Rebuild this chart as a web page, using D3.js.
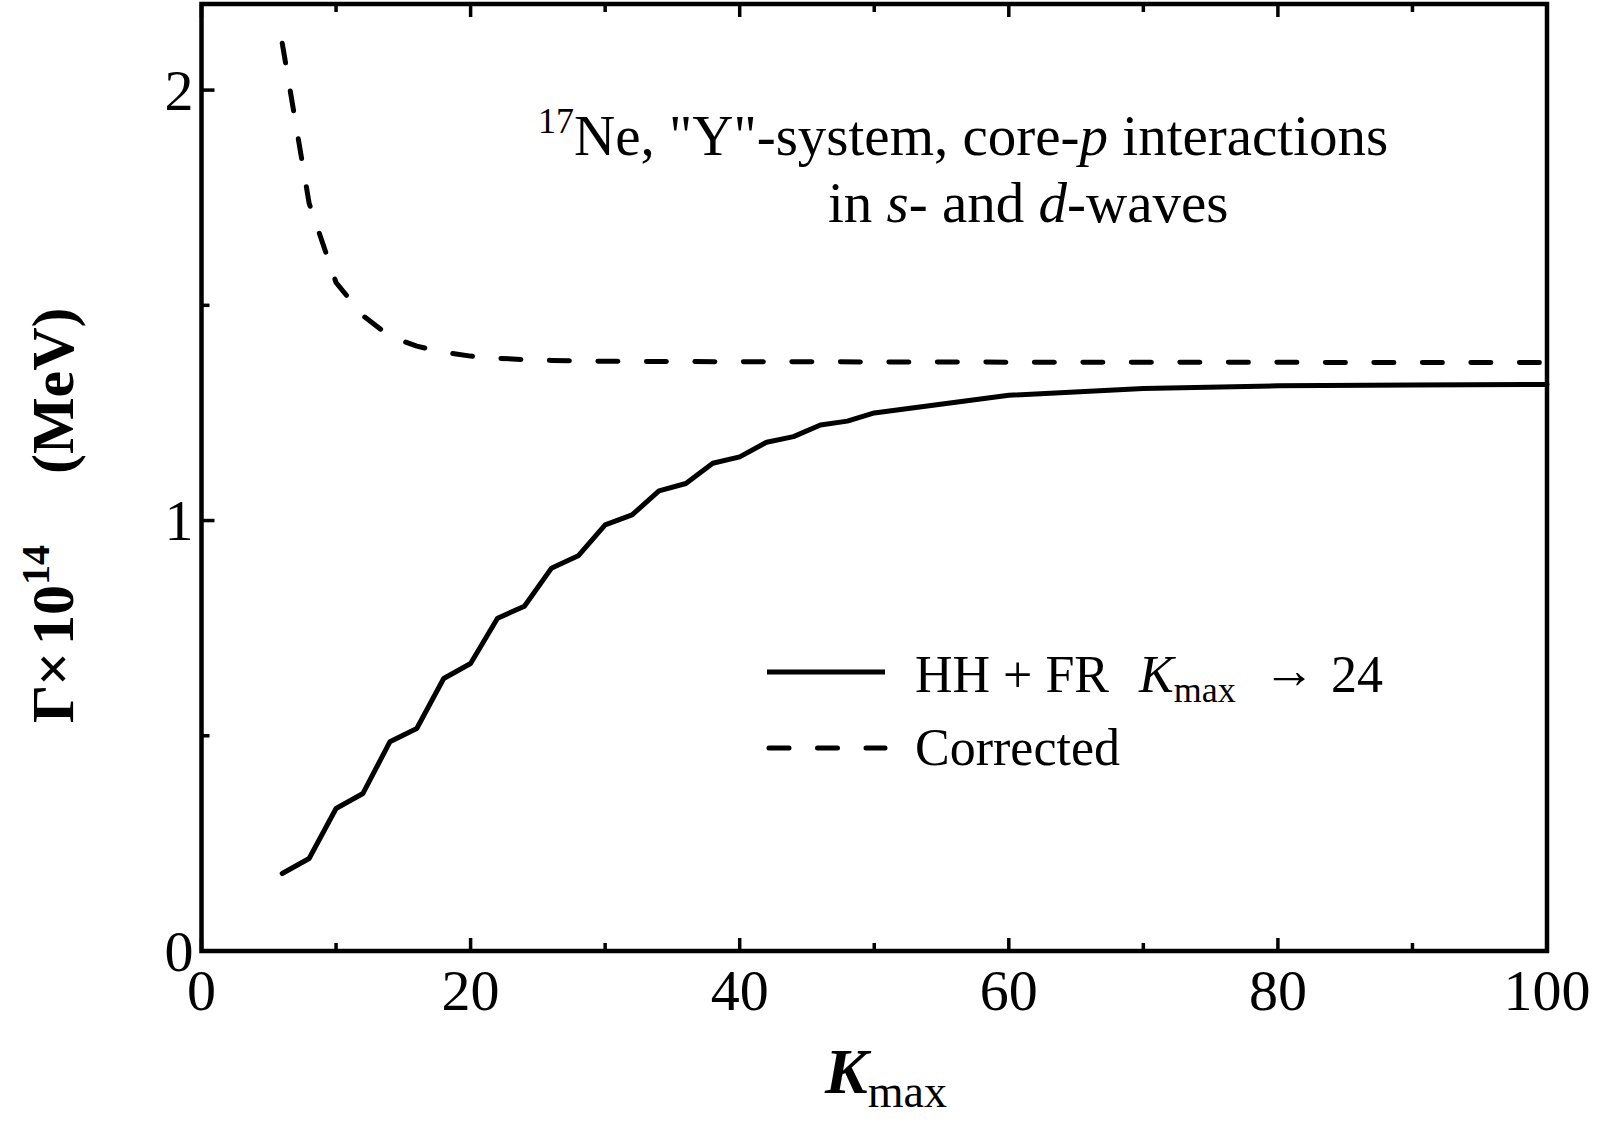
<!DOCTYPE html>
<html>
<head>
<meta charset="utf-8">
<script src="https://cdn.jsdelivr.net/npm/d3@7"></script>
<style>
  body { margin: 0; background: #fff; }
  svg { display: block; font-family: "Liberation Serif", "DejaVu Serif", serif; }
</style>
</head>
<body>
<div id="chart"></div>
<script>
// HH + FR, Kmax -> 24 (solid)
var kSolid = [6, 8, 10, 12, 14, 16, 18, 20, 22, 24, 26, 28, 30, 32, 34, 36, 38, 40, 42, 44, 46, 48, 50, 60, 70, 80, 90, 100];
var gammaSolid = [0.180, 0.215, 0.331, 0.366, 0.486, 0.517, 0.633, 0.668, 0.773, 0.801, 0.889, 0.918, 0.990, 1.013,
    1.069, 1.086, 1.133, 1.148, 1.182, 1.195, 1.222, 1.231, 1.250, 1.291, 1.307, 1.313, 1.315, 1.316];

// Corrected (dashed)
var kCorr = [6, 8, 10, 12, 14, 16, 18, 20, 22, 24, 26, 28, 30, 40, 60, 100];
var gammaCorr = [2.109, 1.737, 1.553, 1.476, 1.428, 1.405, 1.391, 1.382, 1.377, 1.374, 1.372, 1.371, 1.370, 1.369, 1.368, 1.367];

var xTicks = [0, 20, 40, 60, 80, 100];
var xMinor = [10, 30, 50, 70, 90];
var yTicks = [0, 1, 2];
var yMinor = [0.5, 1.5];

var margin = {top: 4, right: 53, bottom: 172, left: 201.5},
    width = 1600 - margin.left - margin.right,
    height = 1123 - margin.top - margin.bottom;

var x = d3.scaleLinear().domain([0, 100]).range([0, width]);
var y = d3.scaleLinear().domain([0, 2.2]).range([height, 0]);

var svg = d3.select("#chart").append("svg")
    .attr("width", 1600)
    .attr("height", 1123);

var g = svg.append("g")
    .attr("transform", "translate(" + margin.left + "," + margin.top + ")");

// ticks point inward; bottom + top on x, left only on y
function tickLines(sel, vals, len, axis, side) {
    sel.selectAll(null).data(vals).enter().append("line")
        .attr("x1", function(d) { return axis === "x" ? x(d) : 0; })
        .attr("x2", function(d) { return axis === "x" ? x(d) : len; })
        .attr("y1", function(d) { return axis === "x" ? (side === "top" ? 0 : height) : y(d); })
        .attr("y2", function(d) { return axis === "x" ? (side === "top" ? len : height - len) : y(d); })
        .attr("stroke", "#000")
        .attr("stroke-width", 3.5);
}
var ticks = g.append("g");
tickLines(ticks, xTicks, 13, "x", "bottom");
tickLines(ticks, xMinor, 8, "x", "bottom");
tickLines(ticks, xTicks, 13, "x", "top");
tickLines(ticks, xMinor, 8, "x", "top");
tickLines(ticks, yTicks, 13, "y");
tickLines(ticks, yMinor, 8, "y");

g.append("rect")
    .attr("width", width)
    .attr("height", height)
    .attr("fill", "none")
    .attr("stroke", "#000")
    .attr("stroke-width", 4.5);

g.append("g").selectAll("text").data(xTicks).enter().append("text")
    .attr("x", function(d) { return x(d); })
    .attr("y", height + 59)
    .attr("text-anchor", "middle")
    .attr("font-size", 58)
    .text(function(d) { return d; });

g.append("g").selectAll("text").data(yTicks).enter().append("text")
    .attr("x", -8)
    .attr("y", function(d) { return y(d); })
    .attr("dy", "0.34em")
    .attr("text-anchor", "end")
    .attr("font-size", 58)
    .text(function(d) { return d; });

var line = d3.line()
    .x(function(d) { return x(d[0]); })
    .y(function(d) { return y(d[1]); });

g.append("path")
    .datum(d3.zip(kSolid, gammaSolid))
    .attr("d", line)
    .attr("fill", "none")
    .attr("stroke", "#000")
    .attr("stroke-width", 5)
    .attr("stroke-linejoin", "round")
    .attr("stroke-linecap", "round");

g.append("path")
    .datum(d3.zip(kCorr, gammaCorr))
    .attr("d", line)
    .attr("fill", "none")
    .attr("stroke", "#000")
    .attr("stroke-width", 5)
    .attr("stroke-dasharray", "20 28.5")
    .attr("stroke-linecap", "round");

// annotation
var note = svg.append("text").attr("font-size", 57);
var l1 = note.append("tspan").attr("x", 538).attr("y", 155);
l1.append("tspan").attr("font-size", 36).attr("dy", -22).text("17");
l1.append("tspan").attr("dy", 22).text("Ne, \"Y\"-system, core-");
l1.append("tspan").attr("font-style", "italic").text("p");
l1.append("tspan").text(" interactions");
var l2 = note.append("tspan").attr("x", 828).attr("y", 222);
l2.append("tspan").text("in ");
l2.append("tspan").attr("font-style", "italic").text("s");
l2.append("tspan").text("- and ");
l2.append("tspan").attr("font-style", "italic").text("d");
l2.append("tspan").text("-waves");

// legend
var legend = svg.append("g");
legend.append("line")
    .attr("x1", 767).attr("x2", 885).attr("y1", 672).attr("y2", 672)
    .attr("stroke", "#000").attr("stroke-width", 5);
legend.append("line")
    .attr("x1", 769).attr("x2", 885).attr("y1", 748).attr("y2", 748)
    .attr("stroke", "#000").attr("stroke-width", 5)
    .attr("stroke-dasharray", "20 28.5").attr("stroke-linecap", "round");

var t1 = legend.append("text").attr("y", 692).attr("font-size", 52);
t1.append("tspan").attr("x", 915).text("HH + FR");
t1.append("tspan").attr("x", 1139).attr("font-style", "italic").text("K");
t1.append("tspan").attr("font-size", 36).attr("dy", 10).text("max");
t1.append("tspan").attr("x", 1331).attr("dy", -10).text("24");
legend.append("text")
    .attr("x", 1263).attr("y", 688)
    .attr("font-size", 52)
    .attr("textLength", 52)
    .attr("lengthAdjust", "spacingAndGlyphs")
    .text("\u2192");

legend.append("text").attr("x", 915).attr("y", 765).attr("font-size", 52).text("Corrected");

// axis titles
var xt = svg.append("text")
    .attr("x", 825).attr("y", 1093)
    .attr("font-size", 64);
xt.append("tspan").attr("font-style", "italic").attr("font-weight", "bold").text("K");
xt.append("tspan").attr("font-size", 46).attr("dy", 14).text("max");

var yt = svg.append("text")
    .attr("transform", "translate(73,0) rotate(-90)")
    .attr("y", 0)
    .attr("font-size", 60)
    .attr("font-weight", "bold");
yt.append("tspan").attr("x", -723).text("\u0393");
yt.append("tspan").attr("x", -686).text("\u00d7");
yt.append("tspan").attr("x", -645).text("10");
yt.append("tspan").attr("x", -585).attr("font-size", 40).attr("dy", -24).text("14");
yt.append("tspan").attr("x", -474).attr("dy", 24).text("(MeV)");
</script>
</body>
</html>
